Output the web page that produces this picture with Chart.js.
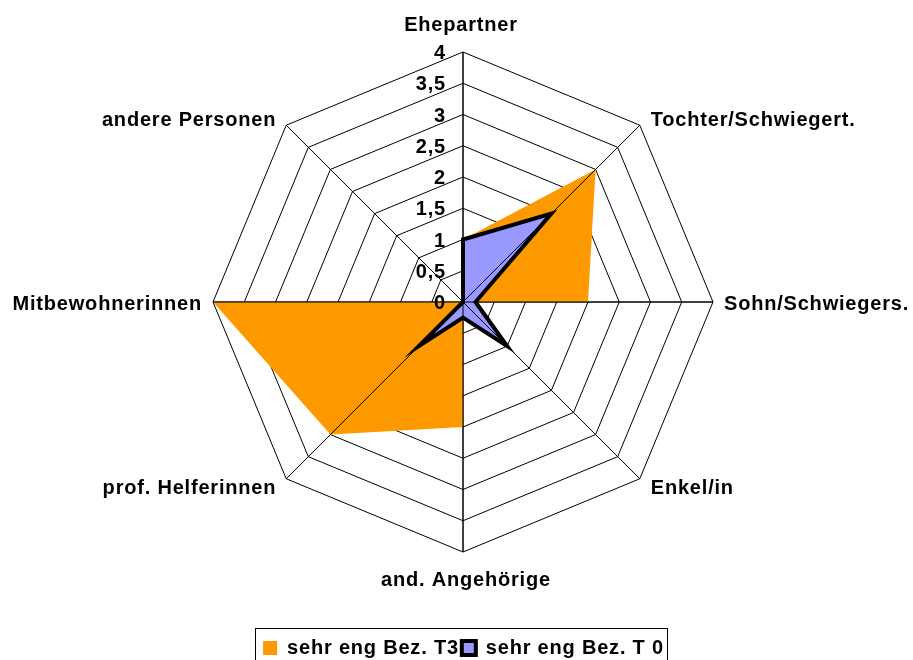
<!DOCTYPE html>
<html>
<head>
<meta charset="utf-8">
<script src="https://cdn.jsdelivr.net/npm/chart.js@4/dist/chart.umd.min.js"></script>
<style>
  html, body { margin: 0; padding: 0; background: #fff; overflow: hidden; }
  canvas { display: block; }
</style>
</head>
<body>
<canvas id="c" width="913" height="668"></canvas>
<script>
// ---- data ----
const categories = ['Ehepartner', 'Tochter/Schwiegert.', 'Sohn/Schwiegers.', 'Enkel/in',
                    'and. Angehörige', 'prof. Helferinnen', 'Mitbewohnerinnen', 'andere Personen'];
const seriesT3 = [1, 3, 2, 0, 2, 3, 4, 0];
const seriesT0 = [1, 2, 0.2, 1, 0.25, 1, 0, 0];
const seriesNames = ['sehr eng Bez. T3', 'sehr eng Bez. T 0'];
const tickValues = [0, 0.5, 1, 1.5, 2, 2.5, 3, 3.5, 4];
const tickLabels = ['0', '0,5', '1', '1,5', '2', '2,5', '3', '3,5', '4'];

// ---- styles ----
const FONT_FAMILY = '"Liberation Sans", Arial, sans-serif';
const FONT = 'bold 20px ' + FONT_FAMILY;
const SPACING = '0.8px';
// label placement per axis: [align, dx, dy(baseline)]
const labelPlacement = [
  ['center', -2, -21],
  ['left', 11, 1],
  ['left', 11, 7.5],
  ['left', 11, 15],
  ['center', 3, 33.5],
  ['right', -10, 15],
  ['right', -11, 7.5],
  ['right', -10, 1]
];

const spacingPlugin = {
  id: 'spacing',
  beforeLayout(chart) { chart.ctx.letterSpacing = SPACING; },
  beforeDraw(chart) { chart.ctx.letterSpacing = SPACING; }
};

const overlayPlugin = {
  id: 'overlay',
  afterDatasetsDraw(chart) {
    const ctx = chart.ctx;
    const s = chart.scales.r;
    const n = categories.length;
    ctx.save();
    // angle lines drawn over the filled areas
    ctx.strokeStyle = '#000';
    ctx.lineWidth = 1;
    for (let i = 0; i < n; i++) {
      const p = s.getPointPosition(i, s.drawingArea);
      ctx.beginPath();
      ctx.moveTo(s.xCenter, s.yCenter);
      ctx.lineTo(p.x, p.y);
      ctx.stroke();
    }
    // tick labels
    ctx.font = FONT;
    ctx.letterSpacing = SPACING;
    ctx.fillStyle = '#000';
    ctx.textAlign = 'right';
    ctx.textBaseline = 'alphabetic';
    tickValues.forEach((v, i) => {
      const d = s.getDistanceFromCenterForValue(v);
      ctx.fillText(tickLabels[i], s.xCenter - 17, s.yCenter - d + 7);
    });
    // point labels
    categories.forEach((lab, i) => {
      const p = s.getPointPosition(i, s.drawingArea);
      const pl = labelPlacement[i];
      ctx.textAlign = pl[0];
      ctx.fillText(lab, p.x + pl[1], p.y + pl[2]);
    });
    ctx.restore();
  },
  afterDraw(chart) {
    const hb = chart.legend && chart.legend.legendHitBoxes;
    if (!hb || !hb.length) return;
    const ctx = chart.ctx;
    const last = hb[hb.length - 1];
    const left = Math.round(hb[0].left - 8) + 0.5;
    const right = Math.round(last.left + last.width + 3) + 0.5;
    const top = Math.round(hb[0].top - 10) + 0.5;
    ctx.save();
    ctx.strokeStyle = '#000';
    ctx.lineWidth = 1;
    ctx.strokeRect(left, top, right - left, 60);
    ctx.restore();
  }
};

new Chart(document.getElementById('c'), {
  type: 'radar',
  data: {
    labels: categories,
    datasets: [
      {
        label: seriesNames[0],
        data: seriesT3,
        backgroundColor: '#FF9900',
        borderColor: '#FF9900',
        borderWidth: 0,
        pointRadius: 0,
        fill: 'origin',
        order: 2
      },
      {
        label: seriesNames[1],
        data: seriesT0,
        backgroundColor: '#9999FF',
        borderColor: '#000000',
        borderWidth: 4,
        borderJoinStyle: 'miter',
        pointRadius: 0,
        fill: 'origin',
        order: 1
      }
    ]
  },
  options: {
    responsive: false,
    animation: false,
    devicePixelRatio: 1,
    layout: { padding: { left: 213, right: 199, top: 0, bottom: 0 } },
    elements: { line: { tension: 0 } },
    scales: {
      r: {
        min: 0,
        max: 4,
        ticks: { stepSize: 0.5, display: false },
        grid: { color: '#000', lineWidth: 1, circular: false },
        angleLines: { display: true, color: '#000', lineWidth: 1 },
        pointLabels: { display: false }
      }
    },
    plugins: {
      legend: {
        position: 'bottom',
        align: 'center',
        title: {
          display: true,
          text: ' ',
          font: { size: 10 },
          padding: { top: 19, bottom: 0 }
        },
        labels: {
          font: { family: FONT_FAMILY, size: 20, weight: 'bold' },
          color: '#000',
          boxWidth: 14,
          boxHeight: 14,
          padding: 3,
          sort: (a, b) => a.datasetIndex - b.datasetIndex
        }
      },
      tooltip: { enabled: false }
    }
  },
  plugins: [spacingPlugin, overlayPlugin]
});
</script>
</body>
</html>
